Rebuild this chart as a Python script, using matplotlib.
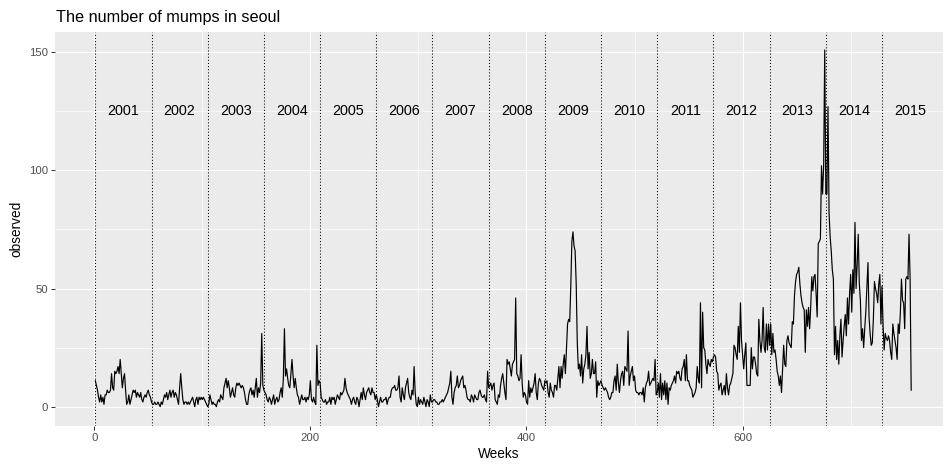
import numpy as np
import matplotlib
matplotlib.use("Agg")
import matplotlib.pyplot as plt
from matplotlib.ticker import MultipleLocator

plt.rcParams['font.family'] = ['Liberation Sans', 'DejaVu Sans']

# weekly mumps counts (weeks 1..756)
observed = [
    11, 9, 7, 4, 2, 5, 2, 4, 1, 5,
    5, 7, 6, 6, 7, 14, 8, 7, 15, 14,
    15, 17, 14, 20, 14, 8, 12, 14, 7, 1,
    2, 5, 1, 3, 5, 7, 6, 7, 4, 6,
    5, 4, 6, 3, 2, 4, 5, 4, 6, 7,
    5, 4, 2, 1, 1, 2, 1, 1, 2, 1,
    0, 2, 1, 3, 5, 4, 6, 3, 5, 7,
    4, 6, 7, 4, 6, 5, 3, 1, 8, 14,
    8, 3, 1, 2, 2, 1, 2, 1, 2, 3,
    4, 2, 0, 3, 4, 1, 4, 3, 4, 3,
    4, 3, 2, 1, 0, 1, 5, 3, 1, 2,
    1, 1, 0, 2, 3, 2, 5, 4, 3, 8,
    10, 12, 8, 11, 8, 4, 6, 8, 5, 4,
    8, 10, 9, 10, 9, 8, 9, 8, 6, 3,
    1, 1, 5, 7, 8, 5, 7, 4, 8, 12,
    4, 8, 6, 10, 31, 9, 7, 6, 5, 3,
    2, 4, 3, 1, 3, 5, 1, 3, 4, 2,
    3, 6, 8, 4, 12, 33, 13, 16, 12, 9,
    8, 14, 20, 13, 8, 12, 8, 5, 4, 1,
    3, 5, 3, 3, 4, 2, 4, 3, 5, 11,
    3, 2, 4, 2, 1, 26, 9, 11, 10, 4,
    3, 2, 2, 3, 1, 2, 2, 4, 1, 4,
    3, 4, 1, 3, 5, 4, 3, 6, 5, 6,
    7, 12, 8, 6, 5, 4, 3, 1, 3, 4,
    2, 1, 4, 3, 0, 3, 6, 3, 8, 5,
    3, 6, 7, 8, 6, 5, 8, 6, 6, 3,
    5, 3, 0, 2, 4, 2, 2, 3, 3, 4,
    1, 3, 4, 4, 7, 8, 8, 9, 7, 7,
    8, 13, 4, 2, 8, 5, 3, 8, 10, 12,
    6, 4, 3, 7, 5, 17, 6, 1, 0, 4,
    1, 3, 2, 1, 4, 2, 0, 3, 2, 0,
    5, 2, 2, 3, 3, 2, 2, 1, 1, 2,
    2, 3, 2, 3, 4, 5, 6, 8, 10, 15,
    4, 1, 6, 8, 9, 13, 8, 9, 11, 12,
    13, 8, 9, 7, 4, 3, 3, 2, 5, 4,
    2, 5, 4, 3, 3, 6, 7, 5, 4, 4,
    5, 3, 2, 15, 8, 9, 10, 7, 9, 10,
    3, 2, 1, 5, 4, 9, 12, 14, 10, 6,
    3, 20, 18, 19, 16, 13, 18, 19, 20, 46,
    14, 13, 11, 12, 22, 10, 4, 6, 5, 2,
    1, 11, 4, 8, 6, 8, 10, 14, 6, 3,
    10, 12, 11, 9, 8, 7, 11, 10, 11, 6,
    4, 10, 7, 6, 4, 9, 9, 7, 12, 17,
    8, 17, 12, 18, 22, 14, 25, 35, 37, 36,
    51, 70, 74, 68, 66, 52, 27, 16, 18, 13,
    22, 10, 16, 18, 22, 34, 16, 23, 12, 14,
    20, 14, 14, 19, 4, 11, 9, 10, 11, 9,
    8, 7, 8, 7, 6, 4, 3, 4, 6, 6,
    11, 13, 7, 18, 10, 6, 11, 14, 15, 9,
    17, 16, 15, 32, 9, 13, 15, 17, 11, 13,
    7, 6, 6, 5, 6, 6, 5, 8, 2, 8,
    10, 11, 15, 9, 10, 11, 12, 11, 20, 5,
    6, 10, 4, 14, 3, 10, 5, 11, 3, 10,
    1, 8, 7, 9, 10, 11, 13, 10, 15, 14,
    15, 12, 11, 16, 17, 20, 11, 22, 11, 11,
    9, 8, 7, 4, 5, 6, 8, 17, 12, 10,
    44, 8, 40, 25, 24, 18, 14, 20, 18, 17,
    20, 19, 21, 22, 21, 15, 14, 7, 9, 10,
    5, 7, 9, 5, 14, 8, 5, 9, 10, 12,
    14, 26, 25, 22, 20, 34, 23, 44, 28, 22,
    16, 22, 27, 9, 9, 9, 9, 25, 16, 21,
    21, 18, 14, 13, 37, 28, 23, 28, 42, 25,
    23, 35, 24, 35, 26, 35, 22, 31, 23, 24,
    20, 15, 13, 9, 13, 6, 16, 26, 18, 17,
    28, 30, 27, 26, 25, 36, 35, 47, 53, 56,
    57, 59, 52, 47, 44, 42, 41, 23, 41, 34,
    42, 33, 42, 55, 49, 55, 56, 48, 38, 69,
    70, 71, 102, 90, 102, 151, 90, 90, 127, 82,
    72, 66, 58, 54, 22, 34, 20, 28, 18, 30,
    37, 21, 28, 34, 39, 30, 46, 35, 48, 56,
    40, 58, 48, 78, 50, 60, 73, 52, 45, 28,
    33, 25, 33, 40, 50, 61, 38, 31, 26, 27,
    37, 53, 50, 48, 44, 52, 56, 35, 51, 34,
    24, 31, 29, 28, 30, 28, 23, 20, 35, 31,
    28, 25, 20, 35, 31, 40, 54, 45, 44, 33,
    54, 55, 54, 73, 54, 7,
]
weeks = np.arange(1, len(observed) + 1)

years = ['2001', '2002', '2003', '2004', '2005', '2006', '2007', '2008',
         '2009', '2010', '2011', '2012', '2013', '2014', '2015']
year_start_weeks = [1, 53, 105, 157, 209, 261, 313, 365, 417, 469, 521, 573, 625, 677, 729]
year_label_weeks = [27, 79, 131, 183, 235, 287, 339, 391, 443, 495, 547, 599, 651, 703, 755]
year_label_y = 125

W, H = 943, 466
fig = plt.figure(figsize=(W / 100, H / 100), dpi=100)
L, R, T, B = 55, 943, 32.3, 425.7
ax = fig.add_axes([L / W, 1 - B / H, (R - L) / W, (B - T) / H])

ax.set_facecolor('#EBEBEB')
for s in ax.spines.values():
    s.set_visible(False)

ax.xaxis.set_major_locator(MultipleLocator(200))
ax.xaxis.set_minor_locator(MultipleLocator(100))
ax.yaxis.set_major_locator(MultipleLocator(50))
ax.yaxis.set_minor_locator(MultipleLocator(25))
ax.grid(which='major', color='white', linewidth=0.85)
ax.grid(which='minor', color='white', linewidth=0.45)
ax.set_axisbelow(True)
ax.tick_params(which='minor', length=0)
ax.tick_params(which='major', length=2.6, width=0.7, color='#333333',
               labelcolor='#4D4D4D', labelsize=8.2, pad=2.5)

for xv in year_start_weeks:
    ax.axvline(xv, color='black', linewidth=0.75, linestyle=(0, (1, 2)), zorder=2)

ax.plot(weeks, observed, color='black', linewidth=0.85, zorder=3)

for lab, xw in zip(years, year_label_weeks):
    ax.text(xw, year_label_y, lab, ha='center', va='center', fontsize=10.4, color='black', zorder=4)

x0, scale = 94.25, 1.0806
ax.set_xlim((L - x0) / scale, (R - x0) / scale)
y0, yscale = 406.7, 2.3627
ax.set_ylim(-(B - y0) / yscale, (y0 - T) / yscale)

ax.set_xlabel('Weeks', fontsize=9.8, color='black', labelpad=3)
ax.set_ylabel('observed', fontsize=9.8, color='black', labelpad=4)

fig.text(56 / W, 1 - 21.7 / H, 'The number of mumps in seoul', fontsize=11.7,
         ha='left', va='baseline', color='black')

fig.savefig('out.png', dpi=100)
